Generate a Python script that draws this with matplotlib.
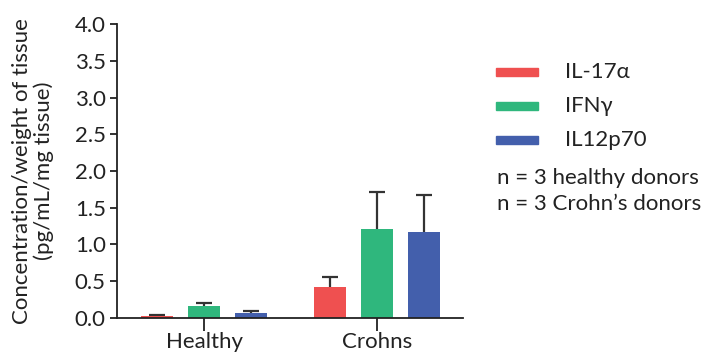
import numpy as np
import matplotlib.pyplot as plt
from matplotlib.patches import Rectangle

plt.rcParams['font.family'] = ['Lato', 'DejaVu Sans']

groups = ['Healthy', 'Crohns']
cytokines = ['IL-17α', 'IFNγ', 'IL12p70']
colors = ['#EF5050', '#2FB77D', '#435FAC']

# mean and upper error (SD) per cytokine, order: Healthy, Crohns
means = {
    'IL-17α': [0.03, 0.42],
    'IFNγ': [0.165, 1.21],
    'IL12p70': [0.068, 1.17],
}
errors = {
    'IL-17α': [0.015, 0.14],
    'IFNγ': [0.04, 0.51],
    'IL12p70': [0.032, 0.51],
}
notes = ['n = 3 healthy donors', 'n = 3 Crohn’s donors']

fs = 16
ink = '#222222'

fig = plt.figure(figsize=(7.06, 3.54), dpi=100)
ax = fig.add_axes([0.1657, 0.1017, 0.4901, 0.8305])

x = np.arange(len(groups))
offset = 0.272
width = 0.18
cap = 0.045
for i, name in enumerate(cytokines):
    pos = x + (i - 1) * offset
    m = np.array(means[name])
    top = m + np.array(errors[name])
    ax.bar(pos, m, width, color=colors[i], zorder=2)
    # upper-only error bars
    ax.vlines(pos, m, top, color='#333333', lw=1.6, zorder=1)
    ax.hlines(top, pos - cap, pos + cap, color='#333333', lw=1.6, zorder=1)

ax.set_xlim(-0.503, 1.497)
ax.set_ylim(0, 4.0)
yt = np.arange(0, 4.01, 0.5)
ax.set_yticks(yt)
ax.set_yticklabels([f'{v:.1f}' for v in yt])
ax.set_xticks(x)
ax.set_xticklabels(groups)
ax.tick_params(axis='y', length=5, width=1.3, labelsize=fs, pad=3, colors=ink)
ax.tick_params(axis='x', length=9, width=1.3, labelsize=fs, pad=1, colors=ink)
for side in ['top', 'right']:
    ax.spines[side].set_visible(False)
for side in ['left', 'bottom']:
    ax.spines[side].set_linewidth(1.3)
    ax.spines[side].set_color(ink)
ax.set_ylabel('Concentration/weight of tissue\n(pg/mL/mg tissue)', fontsize=fs,
              color=ink, labelpad=15, linespacing=1.08)

# legend drawn by hand to the right of the axes
for i, name in enumerate(cytokines):
    yc = 1 - (72 + i * 34) / 354
    fig.patches.append(Rectangle((496 / 706, yc - 4 / 354), 42 / 706, 8 / 354,
                                 transform=fig.transFigure, color=colors[i]))
    fig.text(565 / 706, yc, name, fontsize=fs, va='center', color=ink)
for j, note in enumerate(notes):
    fig.text(497 / 706, 1 - (178 + j * 26) / 354, note, fontsize=fs,
             va='center', color=ink)

fig.savefig('out.png', dpi=100)
